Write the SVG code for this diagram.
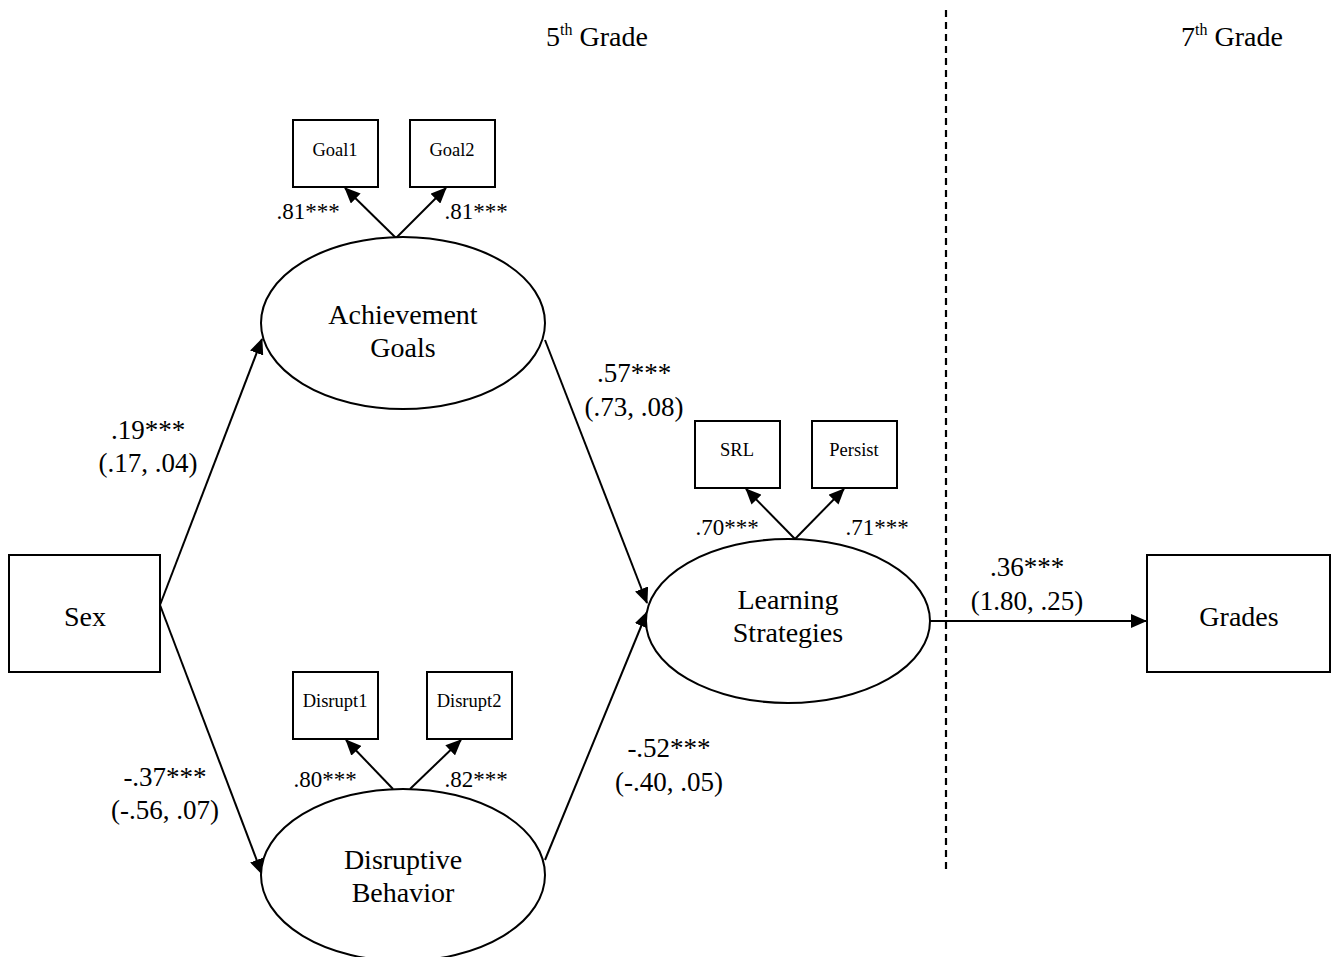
<svg xmlns="http://www.w3.org/2000/svg" width="1332" height="957" viewBox="0 0 1332 957">
<style>
text{font-family:"Liberation Serif","Times New Roman",serif;fill:#000;text-anchor:middle}
.box{fill:#fff;stroke:#000;stroke-width:2}
.ell{fill:#fff;stroke:#000;stroke-width:2}
.big{font-size:28px}
.sm{font-size:18.5px}
.coef{font-size:27px}
.ld{font-size:23px}
.edge{stroke:#000;stroke-width:2;fill:none;marker-end:url(#ah)}
</style>
<defs>
<marker id="ah" markerWidth="16" markerHeight="14" refX="15" refY="7" orient="auto" markerUnits="userSpaceOnUse">
<path d="M0,0 L16,7 L0,14 Z" fill="#000"/>
</marker>
</defs>
<rect width="1332" height="957" fill="#fff"/>
<line x1="946" y1="10" x2="946" y2="870" stroke="#000" stroke-width="2.2" stroke-dasharray="7,5"/>
<text x="597" y="46" class="big">5<tspan font-size="16" dy="-11">th</tspan><tspan dy="11"> Grade</tspan></text>
<text x="1232" y="46" class="big">7<tspan font-size="16" dy="-11">th</tspan><tspan dy="11"> Grade</tspan></text>
<g id="connectors">
<line class="edge" x1="160" y1="605" x2="262" y2="339"/>
<line class="edge" x1="160" y1="605" x2="262" y2="874"/>
<line class="edge" x1="545" y1="340" x2="647" y2="603"/>
<line class="edge" x1="545" y1="860" x2="647" y2="612"/>
<line class="edge" x1="930" y1="621" x2="1146" y2="621"/>
<line class="edge" x1="396" y1="238" x2="345" y2="188"/>
<line class="edge" x1="396" y1="238" x2="446" y2="188"/>
<line class="edge" x1="393" y1="789" x2="346" y2="740"/>
<line class="edge" x1="410" y1="789" x2="461" y2="740"/>
<line class="edge" x1="795" y1="539" x2="746" y2="489"/>
<line class="edge" x1="795" y1="539" x2="844" y2="489"/>
</g>
<g id="sex"><rect class="box" x="9" y="555" width="151" height="117"/><text x="85" y="626" class="big">Sex</text></g>
<g id="grades"><rect class="box" x="1147" y="555" width="183" height="117"/><text x="1239" y="626" class="big">Grades</text></g>
<g id="achievement"><ellipse class="ell" cx="403" cy="323" rx="142" ry="86"/><text x="403" y="324" class="big">Achievement</text><text x="403" y="357" class="big">Goals</text></g>
<g id="disruptive"><ellipse class="ell" cx="403" cy="875" rx="142" ry="86"/><text x="403" y="869" class="big">Disruptive</text><text x="403" y="902" class="big">Behavior</text></g>
<g id="learning"><ellipse class="ell" cx="788" cy="621" rx="142" ry="82"/><text x="788" y="609" class="big">Learning</text><text x="788" y="642" class="big">Strategies</text></g>
<g id="goal1"><rect class="box" x="293" y="120" width="85" height="67"/><text x="335" y="156" class="sm">Goal1</text></g>
<g id="goal2"><rect class="box" x="410" y="120" width="85" height="67"/><text x="452" y="156" class="sm">Goal2</text></g>
<g id="disrupt1"><rect class="box" x="293" y="672" width="85" height="67"/><text x="335" y="707" class="sm">Disrupt1</text></g>
<g id="disrupt2"><rect class="box" x="427" y="672" width="85" height="67"/><text x="469" y="707" class="sm">Disrupt2</text></g>
<g id="srl"><rect class="box" x="695" y="421" width="85" height="67"/><text x="737" y="456" class="sm">SRL</text></g>
<g id="persist"><rect class="box" x="812" y="421" width="85" height="67"/><text x="854" y="456" class="sm">Persist</text></g>
<g id="labels">
<text x="148" y="439" class="coef">.19***</text>
<text x="148" y="472" class="coef">(.17, .04)</text>
<text x="165" y="786" class="coef">-.37***</text>
<text x="165" y="819" class="coef">(-.56, .07)</text>
<text x="634" y="382" class="coef">.57***</text>
<text x="634" y="416" class="coef">(.73, .08)</text>
<text x="669" y="757" class="coef">-.52***</text>
<text x="669" y="791" class="coef">(-.40, .05)</text>
<text x="1027" y="576" class="coef">.36***</text>
<text x="1027" y="610" class="coef">(1.80, .25)</text>
<text x="308" y="219" class="ld">.81***</text>
<text x="476" y="219" class="ld">.81***</text>
<text x="325" y="787" class="ld">.80***</text>
<text x="476" y="787" class="ld">.82***</text>
<text x="727" y="535" class="ld">.70***</text>
<text x="877" y="535" class="ld">.71***</text>
</g>
</svg>
